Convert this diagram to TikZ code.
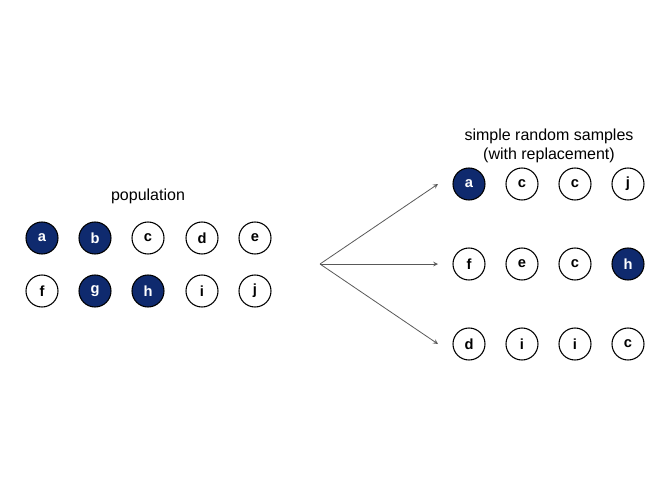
\documentclass[tikz,border=0pt]{standalone}
\usepackage{fontspec}
\setmainfont{Liberation Sans}
\definecolor{navy}{HTML}{0F2A6E}
\begin{document}
\begin{tikzpicture}[x=0.75pt,y=-0.75pt,
  el/.style={circle,draw=black,line width=0.8pt,minimum size=24pt,inner sep=0pt,font=\bfseries\fontsize{11}{11}\selectfont,fill=white,text=black},
  sel/.style={el,fill=navy,text=white},
  arr/.style={->,draw=black!65,line width=0.6pt,>=stealth},
  lab/.style={font=\fontsize{12}{14}\selectfont,align=center}]
\useasboundingbox (0,0) rectangle (672,480);
\node[lab] (pop) at (148,196) {population};
\node[sel] (pa) at (42,238) {a};
\node[sel] (pb) at (95,238) {b};
\node[el] (pc) at (148,238) {c};
\node[el] (pd) at (202,238) {d};
\node[el] (pe) at (255,238) {e};
\node[el] (pf) at (42,291) {f};
\node[sel] (pg) at (95,291) {g};
\node[sel] (ph) at (148,291) {h};
\node[el] (pi) at (202,291) {i};
\node[el] (pj) at (255,291) {j};
\node[lab] (title) at (549,146) {simple random samples\\(with replacement)};
\node[sel] (s1a) at (469,184) {a};
\node[el] (s1b) at (522,184) {c};
\node[el] (s1c) at (575,184) {c};
\node[el] (s1d) at (628,184) {j};
\node[el] (s2a) at (469,264) {f};
\node[el] (s2b) at (522,264) {e};
\node[el] (s2c) at (575,264) {c};
\node[sel] (s2d) at (628,264) {h};
\node[el] (s3a) at (469,344) {d};
\node[el] (s3b) at (522,344) {i};
\node[el] (s3c) at (575,344) {i};
\node[el] (s3d) at (628,344) {c};
\coordinate (src) at (320,264);
\coordinate (t1) at (438,184);
\coordinate (t2) at (438,264);
\coordinate (t3) at (438,344);
\draw[arr] (src) -- (t1);
\draw[arr] (src) -- (t2);
\draw[arr] (src) -- (t3);
\end{tikzpicture}
\end{document}
